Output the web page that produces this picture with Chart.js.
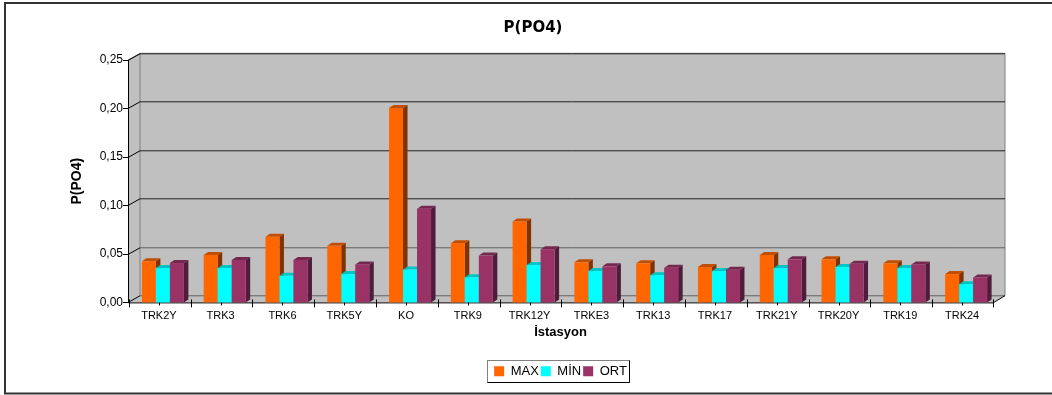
<!DOCTYPE html>
<html>
<head>
<meta charset="utf-8">
<script src="https://cdn.jsdelivr.net/npm/chart.js@4"></script>
<style>
html, body { margin: 0; padding: 0; background: #fff; }
#wrap { width: 1052px; height: 395px; position: relative; }
</style>
</head>
<body>
<div id="wrap"><canvas id="chart" width="1052" height="395"></canvas></div>
<script>
const categories = ['TRK2Y', 'TRK3', 'TRK6', 'TRK5Y', 'KO', 'TRK9', 'TRK12Y', 'TRKE3', 'TRK13', 'TRK17', 'TRK21Y', 'TRK20Y', 'TRK19', 'TRK24'];
const maxValues = [0.0424, 0.049, 0.0677, 0.0583, 0.2004, 0.0611, 0.0835, 0.0413, 0.0403, 0.0365, 0.049, 0.0444, 0.0403, 0.0292];
const minValues = [0.0354, 0.0354, 0.0274, 0.0292, 0.034, 0.026, 0.0385, 0.0323, 0.0281, 0.0323, 0.0354, 0.0365, 0.0354, 0.0188];
const ortValues = [0.0406, 0.0438, 0.0438, 0.0392, 0.0966, 0.0483, 0.0549, 0.0372, 0.0358, 0.0337, 0.0444, 0.0399, 0.0392, 0.0257];
const yTicks = [0, 0.05, 0.10, 0.15, 0.20, 0.25];

const font = 'Liberation Sans, Arial, sans-serif';
const wallX = 12, wallY = 6.7;   // depth of the back wall
const barX = 4.5, barY = 3;      // depth of one bar
const shift = 4;                 // bars sit a bit right of the tick centre

const faces = [
    { side: '#803300', top: '#c04d00' },
    { side: '#00a0a0', top: '#00c4c4' },
    { side: '#4f1c3c', top: '#74284f' }
];

// grey walls, gridlines and axis ticks of the fake 3D box
const boxPlugin = {
    id: 'box',
    beforeDatasetsDraw(chart) {
        const { ctx, chartArea: a, scales: { x, y } } = chart;
        ctx.save();
        ctx.fillStyle = '#c0c0c0';
        ctx.beginPath();
        ctx.moveTo(a.left, a.bottom);
        ctx.lineTo(a.left, a.top);
        ctx.lineTo(a.left + wallX, a.top - wallY);
        ctx.lineTo(a.right + wallX, a.top - wallY);
        ctx.lineTo(a.right + wallX, a.bottom - wallY);
        ctx.lineTo(a.right, a.bottom);
        ctx.closePath();
        ctx.fill();

        ctx.strokeStyle = '#808080';
        ctx.lineWidth = 1;
        ctx.beginPath();
        ctx.moveTo(a.left + wallX, a.bottom - wallY);
        ctx.lineTo(a.left + wallX, a.top - wallY);
        ctx.lineTo(a.right + wallX, a.top - wallY);
        ctx.lineTo(a.right + wallX, a.bottom - wallY);
        ctx.moveTo(a.left, a.top);
        ctx.lineTo(a.left + wallX, a.top - wallY);
        ctx.stroke();

        yTicks.forEach(v => {
            const py = Math.round(y.getPixelForValue(v)) + 0.5;
            ctx.strokeStyle = v === 0 || v === 0.05 ? '#606060' : '#222';
            ctx.beginPath();
            ctx.moveTo(a.left + wallX, py - wallY);
            ctx.lineTo(a.right + wallX, py - wallY);
            ctx.stroke();
            ctx.strokeStyle = '#000';
            ctx.beginPath();
            ctx.moveTo(a.left - 5, py);
            ctx.lineTo(a.left, py);
            ctx.lineTo(a.left + wallX, py - wallY);
            ctx.stroke();
        });

        // axis lines
        ctx.strokeStyle = '#000';
        ctx.beginPath();
        ctx.moveTo(a.left + 0.5, a.top);
        ctx.lineTo(a.left + 0.5, a.bottom + 0.5);
        ctx.lineTo(a.right, a.bottom + 0.5);
        ctx.lineTo(a.right + wallX, a.bottom - wallY);
        ctx.stroke();

        // boundary and centre ticks on the category axis
        const step = x.getPixelForValue(1) - x.getPixelForValue(0);
        ctx.beginPath();
        categories.forEach((c, i) => {
            const cx = Math.round(x.getPixelForValue(i)) + 0.5;
            const bx = Math.round(cx - step / 2) + 0.5;
            ctx.moveTo(cx, a.bottom - 1);
            ctx.lineTo(cx, a.bottom + 3);
            ctx.moveTo(bx, a.bottom - 3);
            ctx.lineTo(bx, a.bottom + 5);
        });
        const ex = Math.round(a.right) + 0.5;
        ctx.moveTo(ex, a.bottom - 3);
        ctx.lineTo(ex, a.bottom + 5);
        ctx.stroke();

        // bars: paint in series order so each one overlaps the side of the previous
        ctx.translate(shift, 0);
        chart.getSortedVisibleDatasetMetas().forEach(meta => {
            const f = faces[meta.index];
            meta.data.forEach(el => {
                const { x: bx, y: top, base, width } = el.getProps(['x', 'y', 'base', 'width'], true);
                const r = bx + width / 2, l = bx - width / 2;
                ctx.fillStyle = f.side;
                ctx.beginPath();
                ctx.moveTo(r, top);
                ctx.lineTo(r + barX, top - barY);
                ctx.lineTo(r + barX, base - barY);
                ctx.lineTo(r, base);
                ctx.closePath();
                ctx.fill();
                ctx.fillStyle = f.top;
                ctx.beginPath();
                ctx.moveTo(l, top);
                ctx.lineTo(l + barX, top - barY);
                ctx.lineTo(r + barX, top - barY);
                ctx.lineTo(r, top);
                ctx.closePath();
                ctx.fill();
            });
            meta.controller.draw();
        });
        ctx.restore();
        return false;
    },
    afterDraw(chart) {
        const { ctx, legend } = chart;
        ctx.save();
        // outer frame, open on the right
        ctx.strokeStyle = '#333';
        ctx.lineWidth = 2;
        ctx.beginPath();
        ctx.moveTo(1052, 3);
        ctx.lineTo(5, 3);
        ctx.lineTo(5, 393.5);
        ctx.lineTo(1052, 393.5);
        ctx.stroke();
        // legend frame
        ctx.lineWidth = 1;
        const hit = legend.legendHitBoxes;
        const l = Math.round(hit[0].left) - 6.5;
        const last = hit[hit.length - 1];
        const r = Math.round(last.left + last.width) + 2.5;
        const t = Math.round(hit[0].top + hit[0].height / 2) - 10.5;
        ctx.strokeStyle = '#808080';
        ctx.strokeRect(l, t, r - l, 22);
        ctx.strokeStyle = '#000';
        ctx.beginPath();
        ctx.moveTo(l, t + 22);
        ctx.lineTo(r, t + 22);
        ctx.lineTo(r, t);
        ctx.stroke();
        ctx.restore();
    }
};

new Chart(document.getElementById('chart'), {
    type: 'bar',
    data: {
        labels: categories,
        datasets: [
            { label: 'MAX', data: maxValues, backgroundColor: '#ff6600' },
            { label: 'MİN', data: minValues, backgroundColor: '#00ffff' },
            { label: 'ORT', data: ortValues, backgroundColor: '#993366' }
        ]
    },
    plugins: [boxPlugin],
    options: {
        responsive: false,
        animation: false,
        categoryPercentage: 0.68,
        barPercentage: 1,
        layout: { padding: { left: 14, right: 0, top: 19, bottom: 7.3 } },
        plugins: {
            tooltip: { enabled: false },
            title: {
                display: true,
                text: 'P(PO4)',
                color: '#000',
                font: { family: 'DejaVu Sans', size: 15, weight: 'bold' },
                padding: { top: 0, bottom: 23 }
            },
            legend: {
                display: true,
                position: 'bottom',
                fullSize: false,
                labels: {
                    color: '#000',
                    boxWidth: 10,
                    boxHeight: 10,
                    padding: 2,
                    font: { family: font, size: 13 }
                }
            }
        },
        scales: {
            x: {
                grid: { display: false, drawTicks: false },
                border: { display: false },
                ticks: {
                    color: '#000',
                    maxRotation: 0,
                    autoSkip: false,
                    padding: 7,
                    font: { family: font, size: 11 }
                },
                title: {
                    display: true,
                    text: 'İstasyon',
                    color: '#000',
                    font: { family: font, size: 13, weight: 'bold' },
                    padding: { top: 0, bottom: 22 }
                },
                afterFit(s) { s.height = 60.3; }
            },
            y: {
                min: 0,
                max: 0.25,
                grid: { display: false, drawTicks: false },
                border: { display: false },
                afterBuildTicks(s) { s.ticks = yTicks.map(v => ({ value: v })); },
                ticks: {
                    color: '#000',
                    padding: 5,
                    font: { family: font, size: 12 },
                    callback: v => v.toFixed(2).replace('.', ',')
                },
                title: {
                    display: true,
                    text: 'P(PO4)',
                    color: '#000',
                    font: { family: font, size: 14, weight: 'bold' },
                    padding: { top: 55, bottom: 0 }
                },
                afterFit(s) { s.width = 114; }
            },
            // empty axis, only keeps the space right of the box
            spare: {
                position: 'right',
                grid: { display: false },
                border: { display: false },
                ticks: { display: false },
                afterFit(s) { s.width = 59; }
            }
        }
    }
});
</script>
</body>
</html>
